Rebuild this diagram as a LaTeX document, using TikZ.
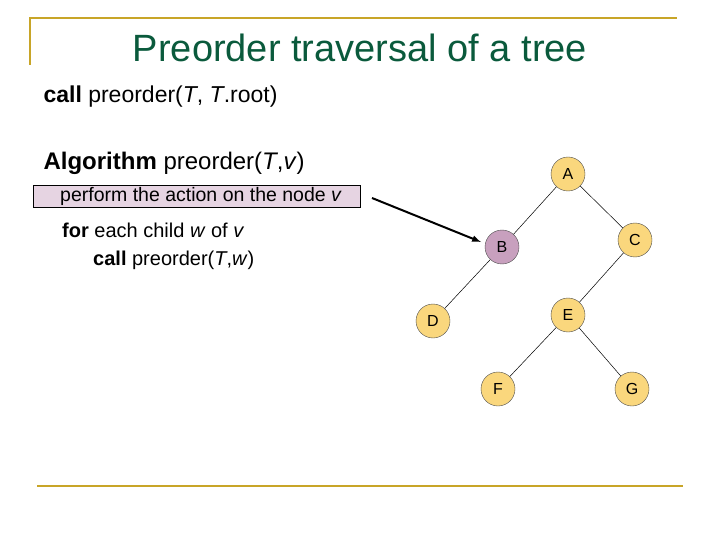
\documentclass[tikz,border=0pt]{standalone}
\usepackage{fontspec}
\setmainfont{Liberation Sans}
\begin{document}
\begin{tikzpicture}[x=1pt,y=-1pt,
  tn/.style={circle,draw=black!70,fill={rgb,255:red,250;green,215;blue,125},minimum size=34pt,inner sep=0pt,font=\fontsize{16}{18}\selectfont},
  edge/.style={draw=black,line width=0.5pt},
  gold/.style={draw={rgb,255:red,200;green,165;blue,40},line width=2.2pt}]
\useasboundingbox (0,0) rectangle (720,540);
\draw[gold] (30,65) -- (30,18) -- (677,18);
\draw[gold] (37,486) -- (683,486);
\node (title) at (360,48) {\fontsize{38}{42}\selectfont\color[RGB]{10,90,60}Preorder traversal of a tree};
\node[anchor=west] (call) at (40,97) {\fontsize{23}{26}\selectfont\textbf{call} preorder(\textit{T}, \textit{T}.root)};
\node[anchor=west] (alg) at (40,163) {\fontsize{24}{27}\selectfont\textbf{Algorithm} preorder(\textit{T},\textit{v})};
\node[draw=black,fill={rgb,255:red,230;green,212;blue,226},anchor=west,minimum width=327pt,minimum height=22pt,inner sep=0pt] (box) at (33,196) {};
\node[anchor=west,inner sep=0pt] (boxt) at (60,196) {\fontsize{19.5}{22}\selectfont perform the action on the node \textit{v}};
\node[anchor=west,inner sep=0pt] (for) at (62,230) {\fontsize{20}{23}\selectfont\textbf{for} each child \textit{w} of \textit{v}};
\node[anchor=west,inner sep=0pt] (rec) at (93,260) {\fontsize{20}{23}\selectfont\textbf{call} preorder(\textit{T},\textit{w})};
\node[tn] (A) at (568,174) {A};
\node[tn,fill={rgb,255:red,200;green,160;blue,190}] (B) at (502,247) {B};
\node[tn] (C) at (635,240) {C};
\node[tn] (D) at (433,321) {D};
\node[tn] (E) at (568,315) {E};
\node[tn] (F) at (498,389) {F};
\node[tn] (G) at (632,389) {G};
\draw[edge] (A) -- (B); \draw[edge] (A) -- (C);
\draw[edge] (B) -- (D); \draw[edge] (C) -- (E);
\draw[edge] (E) -- (F); \draw[edge] (E) -- (G);
\coordinate (s) at (372,198);
\draw[line width=2pt,-latex] (s) -- (481,242);
\end{tikzpicture}
\end{document}
